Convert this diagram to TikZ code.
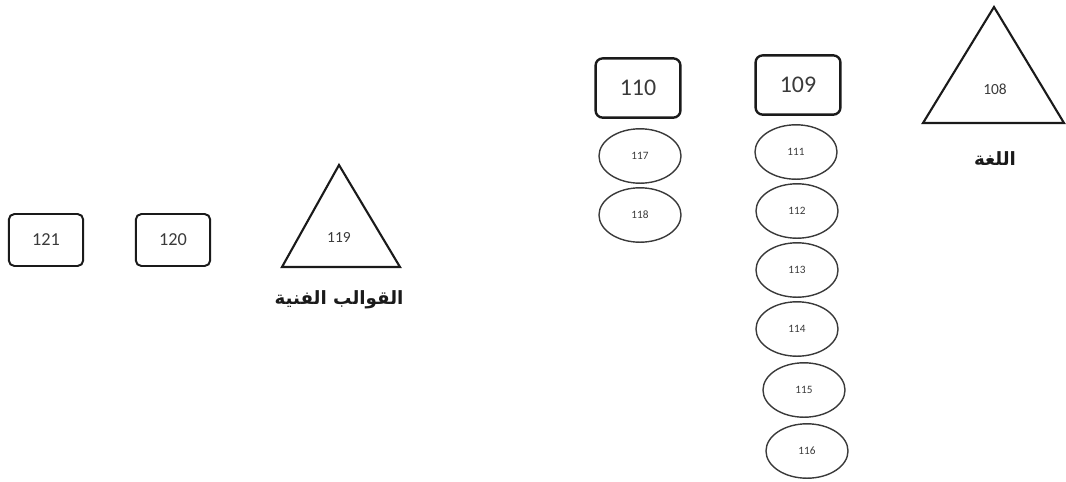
\documentclass[tikz,border=0pt]{standalone}
\usepackage{fontspec}
\setmainfont{Carlito}
\newfontfamily\arabicfont[Script=Arabic]{DejaVu Sans}
\TeXXeTstate=1
\usetikzlibrary{shapes.geometric}
\definecolor{ink}{HTML}{1A1A1A}
\definecolor{inkgray}{HTML}{3A3A3A}
\tikzset{
  bigbox/.style={draw=ink,line width=1.7pt,rounded corners=5pt,
                 minimum width=2.12cm,minimum height=1.48cm,
                 inner sep=0pt,font=\fontsize{17}{20}\selectfont,text=inkgray},
  smallbox/.style={draw=ink,line width=1.4pt,rounded corners=4pt,
                   minimum width=1.86cm,minimum height=1.3cm,
                   inner sep=0pt,font=\fontsize{13}{15}\selectfont,text=inkgray},
  numoval/.style={draw=inkgray,line width=1pt,ellipse,
                  minimum width=2.05cm,minimum height=1.36cm,
                  inner sep=0pt,font=\fontsize{8}{10}\selectfont,text=inkgray},
  trinum/.style={font=\fontsize{11}{13}\selectfont,text=inkgray},
  trishape/.style={draw=ink,line width=1.5pt,line join=miter},
  arlabel/.style={font=\arabicfont\bfseries\fontsize{13}{16}\selectfont,text=ink}
}
\begin{document}
\begin{tikzpicture}[x=0.025cm,y=-0.025cm]
  \useasboundingbox (0,0) rectangle (1066,481);
  % right group
  \draw[trishape] (994,7) -- (923,123) -- (1064,123) -- cycle;
  \node[trinum] (n108) at (995,89) {108};
  \node[arlabel] (lang) at (995,159) {\beginR اللغة\endR};
  \node[bigbox] (n109) at (798,85) {109};
  \node[bigbox] (n110) at (638,88) {110};
  \node[numoval] (n111) at (796,152) {111};
  \node[numoval] (n112) at (797,211) {112};
  \node[numoval] (n113) at (797,270) {113};
  \node[numoval] (n114) at (797,329) {114};
  \node[numoval] (n115) at (804,390) {115};
  \node[numoval] (n116) at (807,451) {116};
  \node[numoval] (n117) at (640,156) {117};
  \node[numoval] (n118) at (640,215) {118};
  % left group
  \draw[trishape] (339,165) -- (282,267) -- (400,267) -- cycle;
  \node[trinum] (n119) at (339,237) {119};
  \node[arlabel] (forms) at (339,300) {\beginR القوالب الفنية\endR};
  \node[smallbox] (n120) at (173,240) {120};
  \node[smallbox] (n121) at (46,240) {121};
\end{tikzpicture}
\end{document}
